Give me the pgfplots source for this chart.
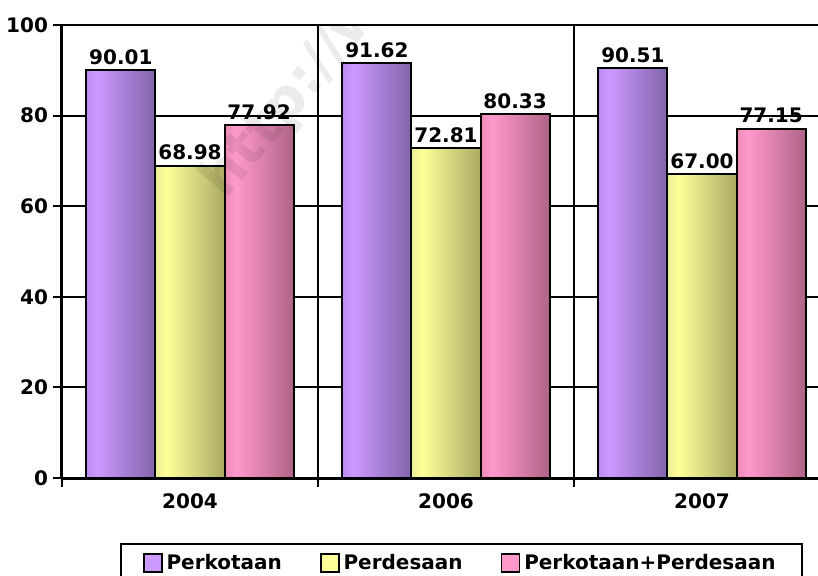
\documentclass[border=0pt]{standalone}
\usepackage{pgfplots}
\pgfplotsset{compat=1.18}
\usepackage{fontspec}
\setmainfont{DejaVu Sans}
\usetikzlibrary{calc}

\definecolor{purpE}{RGB}{188,140,240}
\definecolor{purpL}{RGB}{204,153,255}
\definecolor{purpD}{RGB}{128,100,170}
\definecolor{yelE}{RGB}{235,235,150}
\definecolor{yelL}{RGB}{255,255,153}
\definecolor{yelD}{RGB}{170,170,100}
\definecolor{pinkE}{RGB}{235,140,185}
\definecolor{pinkL}{RGB}{255,153,204}
\definecolor{pinkD}{RGB}{175,100,135}

\pgfdeclarehorizontalshading{purpshade}{100bp}{color(0bp)=(purpE); color(25bp)=(purpE); color(33bp)=(purpL); color(75bp)=(purpD); color(100bp)=(purpD)}
\pgfdeclarehorizontalshading{yelshade}{100bp}{color(0bp)=(yelE); color(25bp)=(yelE); color(33bp)=(yelL); color(75bp)=(yelD); color(100bp)=(yelD)}
\pgfdeclarehorizontalshading{pinkshade}{100bp}{color(0bp)=(pinkE); color(25bp)=(pinkE); color(33bp)=(pinkL); color(75bp)=(pinkD); color(100bp)=(pinkD)}

\pgfplotsset{
  kota/.style={draw=black, line width=1pt, shade, shading=purpshade, bar shift=-0.27, forget plot},
  desa/.style={draw=black, line width=1pt, shade, shading=yelshade, bar shift=0, forget plot},
  both/.style={draw=black, line width=1pt, shade, shading=pinkshade, bar shift=0.27, forget plot},
}

\begin{document}
\begin{tikzpicture}
\begin{axis}[
  name=ax,
  scale only axis,
  width=384pt, height=226.5pt,
  xmin=-0.5, xmax=2.5,
  ymin=0, ymax=100,
  ytick={0,20,40,60,80,100},
  xtick={-0.5,0.5,1.5,2.5},
  x tick label as interval,
  xticklabels={2004,2006,2007},
  axis x line*=bottom,
  axis y line*=left,
  axis line style={-, line width=1.5pt},
  xmajorgrids, ymajorgrids,
  major grid style={draw=black, line width=1pt},
  tick align=outside,
  major tick length=4.5pt,
  tick style={draw=black, line width=1pt},
  /pgf/number format/assume math mode=true,
  tick label style={font=\bfseries},
  xticklabel style={yshift=0pt},
  yticklabel style={xshift=1pt},
  ybar=0pt,
  bar width=0.27,
  nodes near coords={\pgfmathprintnumber[fixed,fixed zerofill,precision=2]{\pgfplotspointmeta}},
  every node near coord/.append style={font=\bfseries, yshift=-1pt},
  legend columns=3,
  legend style={at={(0.0755,-0.1435)}, anchor=north west, draw=black,
                line width=1pt, font=\bfseries, inner xsep=11pt, inner ysep=3pt,
                /tikz/every even column/.append style={column sep=17pt}},
  legend cell align={left},
  legend image code/.code={\draw[#1, draw=black, line width=0.8pt] (0pt,-4.5pt) rectangle (9pt,4.5pt);},
]
% Perkotaan
\addplot[kota] coordinates {(0,90.01)};
\addplot[kota] coordinates {(1,91.62)};
\addplot[kota] coordinates {(2,90.51)};
% Perdesaan
\addplot[desa] coordinates {(0,68.98)};
\addplot[desa] coordinates {(1,72.81)};
\addplot[desa] coordinates {(2,67.00)};
% Perkotaan+Perdesaan
\addplot[both] coordinates {(0,77.92)};
\addplot[both] coordinates {(1,80.33)};
\addplot[both] coordinates {(2,77.15)};
\addlegendimage{fill=purpL}
\addlegendentry{Perkotaan}
\addlegendimage{fill=yelL}
\addlegendentry{Perdesaan}
\addlegendimage{fill=pinkL}
\addlegendentry{Perkotaan+Perdesaan}
\node[rotate=50, anchor=base west, text=black, opacity=0.08, font=\bfseries\fontsize{28}{28}\selectfont]
  at (axis cs:0.12,60) {http://w};
\end{axis}
\pgfresetboundingbox
\path[use as bounding box] ($(ax.south west)+(-31pt,-48.5pt)$) rectangle ($(ax.north east)+(-6pt,12.5pt)$);
\end{tikzpicture}
\end{document}
